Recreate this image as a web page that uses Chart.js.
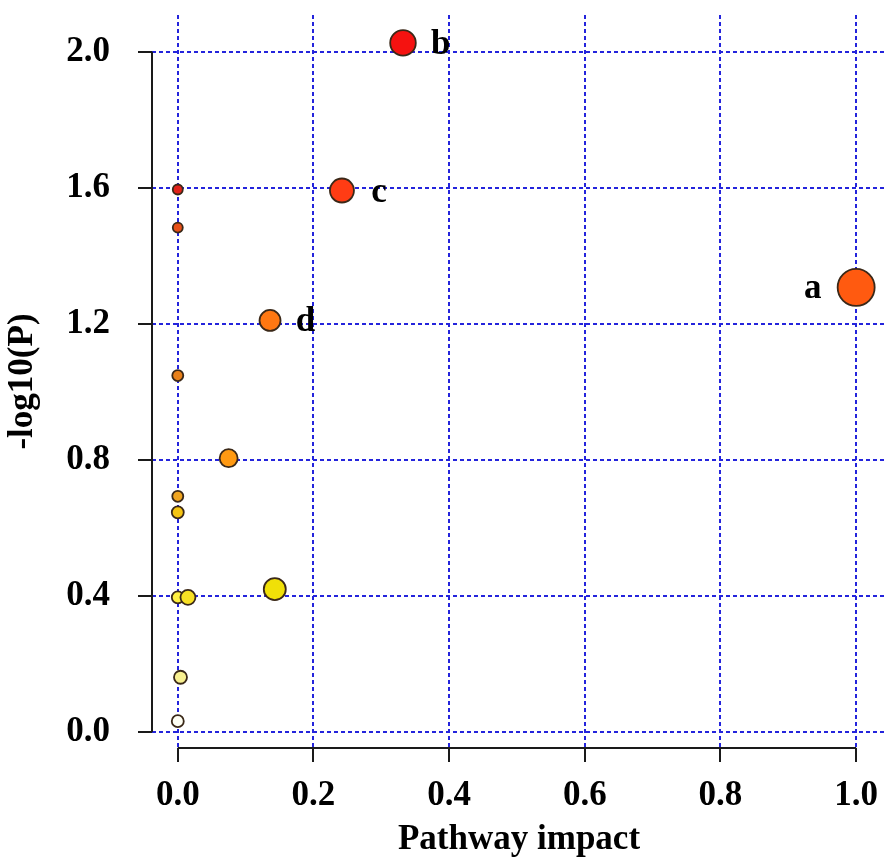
<!DOCTYPE html>
<html lang="en">
<head>
  <meta charset="UTF-8">
  <title>Pathway impact</title>
  <script src="https://cdn.jsdelivr.net/npm/chart.js"></script>
  <style>
    html, body { margin: 0; padding: 0; background: #fff; overflow: hidden; }
    #wrap { width: 886px; height: 866px; position: relative; }
    canvas { display: block; }
  </style>
</head>
<body>
  <div id="wrap"><canvas id="chart"></canvas></div>
  <script>
    // data
    const impact = [1.0, 0.332, 0.242, 0.136, 0.0, 0.0, 0.0, 0.075, 0.0, 0.0, 0.0, 0.015, 0.143, 0.004, 0.0];
    const logP   = [1.307, 2.026, 1.592, 1.21, 1.595, 1.483, 1.048, 0.805, 0.693, 0.646, 0.396, 0.396, 0.42, 0.161, 0.032];
    const bubbleR = [18.5, 12.8, 12, 10.5, 5, 5, 5.5, 9, 5.5, 6, 6, 7.5, 11, 6.5, 6];
    const names  = ['a', 'b', 'c', 'd', '', '', '', '', '', '', '', '', '', '', ''];
    const fills  = ['#ff5a10', '#f51210', '#ff3c14', '#ff7812', '#e2221a', '#e85018', '#e8801a', '#ff9912', '#f0a520', '#f5c412', '#fff040', '#f8e024', '#f0e008', '#f8f090', '#fffff4'];
    const xTicks = [0, 0.2, 0.4, 0.6, 0.8, 1.0];
    const yTicks = [0, 0.4, 0.8, 1.2, 1.6, 2.0];

    const font = { family: "'Liberation Serif', 'DejaVu Serif', serif", weight: 'bold', size: 35 };
    const blue = '#2424dc';

    // R-style detached axis lines + point letters
    const extras = {
      id: 'extras',
      afterDatasetsDraw(chart) {
        const { ctx, chartArea, scales: { x, y } } = chart;
        ctx.save();
        ctx.strokeStyle = '#1a1a1a'; ctx.lineWidth = 2;
        ctx.beginPath();
        ctx.moveTo(chartArea.left, y.getPixelForValue(yTicks[0]));
        ctx.lineTo(chartArea.left, y.getPixelForValue(yTicks[yTicks.length - 1]));
        ctx.moveTo(x.getPixelForValue(xTicks[0]), chartArea.bottom);
        ctx.lineTo(x.getPixelForValue(xTicks[xTicks.length - 1]), chartArea.bottom);
        ctx.stroke();
        ctx.fillStyle = '#000';
        ctx.font = "bold 35px 'Liberation Serif', serif";
        ctx.textBaseline = 'middle'; ctx.textAlign = 'center';
        chart.getDatasetMeta(0).data.forEach((pt, i) => {
          if (!names[i]) return;
          const dir = impact[i] > 0.9 ? -1 : 1;
          ctx.fillText(names[i], pt.x + dir * (bubbleR[i] + 25), pt.y + 2);
        });
        ctx.restore();
      }
    };

    new Chart(document.getElementById('chart'), {
      type: 'bubble',
      data: {
        datasets: [{
          data: impact.map((v, i) => ({ x: v, y: logP[i], r: bubbleR[i] })),
          backgroundColor: fills,
          borderColor: '#3a2818',
          borderWidth: 1.8,
          clip: false
        }]
      },
      options: {
        responsive: true,
        maintainAspectRatio: false,
        animation: false,
        events: [],
        layout: { autoPadding: false, padding: { top: 15, right: 0, left: 0, bottom: 0 } },
        plugins: { legend: { display: false }, tooltip: { enabled: false } },
        scales: {
          x: {
            type: 'linear', min: -0.038, max: 1.044,
            afterBuildTicks: s => { s.ticks = xTicks.map(v => ({ value: v })); },
            afterFit: s => { s.height = 118; s.paddingLeft = 0; s.paddingRight = 0; },
            grid: { color: blue, lineWidth: 2, tickColor: '#1a1a1a', tickLength: 14, tickWidth: 2, tickBorderDash: [] },
            border: { display: false, dash: [4, 3] },
            ticks: { font, color: '#000', padding: 13, maxRotation: 0, callback: v => v.toFixed(1) },
            title: { display: true, text: 'Pathway impact', font, color: '#000', padding: { top: 0, bottom: 5 } }
          },
          y: {
            type: 'linear', min: -0.047, max: 2.108,
            afterBuildTicks: s => { s.ticks = yTicks.map(v => ({ value: v })); },
            afterFit: s => { s.width = 152; s.paddingTop = 0; s.paddingBottom = 0; },
            grid: { color: blue, lineWidth: 2, tickColor: '#1a1a1a', tickLength: 14, tickWidth: 2, tickBorderDash: [] },
            border: { display: false, dash: [4, 3] },
            ticks: { font, color: '#000', padding: 28, callback: v => v.toFixed(1) },
            title: { display: true, text: '-log10(P)', font, color: '#000', padding: { top: 2, bottom: 0 } }
          }
        }
      },
      plugins: [extras]
    });
  </script>
</body>
</html>
